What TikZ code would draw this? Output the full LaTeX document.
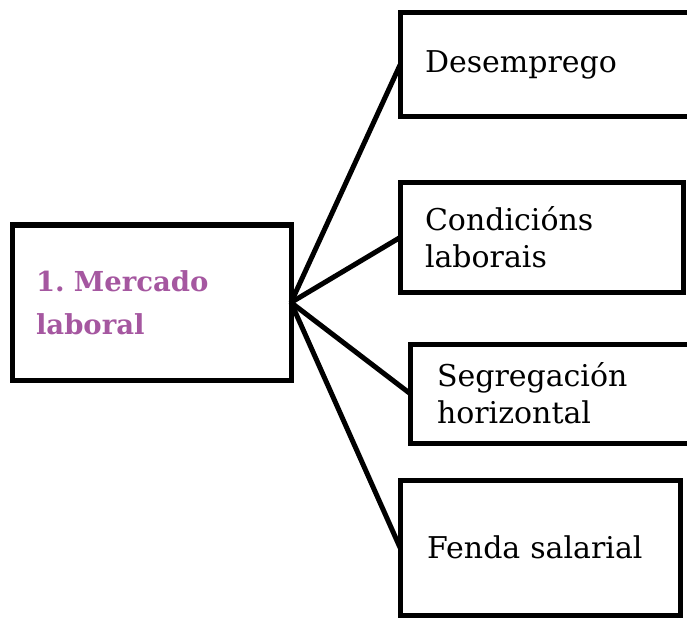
\documentclass[tikz,border=0pt]{standalone}
\usepackage{fontspec}
\setmainfont{DejaVu Serif}
\definecolor{ciruela}{RGB}{165,87,160}
\frenchspacing

\begin{document}
\begin{tikzpicture}[x=1pt,y=-1pt,
  caixa/.style={draw,line width=5pt,outer sep=0pt,inner xsep=25pt,inner ysep=0pt,
    align=left,anchor=north west,font=\fontsize{30}{37}\selectfont},
  rama/.style={line width=5pt}]

\useasboundingbox (0,0) rectangle (687,620);

% tema central
\node[caixa,inner xsep=24pt,text width=231pt,minimum height=155pt,
  font=\bfseries\fontsize{27.5}{43}\selectfont,text=ciruela] (mercado) at (12,225)
{1. Mercado\\laboral};

% subtemas
\node[caixa,text width=239pt,minimum height=104pt] (desemprego) at (400,13)
{Desemprego};
\node[caixa,text width=233pt,minimum height=109pt] (condicions) at (400,183)
{Condicións\\laborais};
\node[caixa,inner xsep=27pt,text width=240pt,minimum height=99pt] (segregacion) at (410,344)
{Segregación\\horizontal};
\node[caixa,inner xsep=27pt,text width=226pt,minimum height=135pt] (fenda) at (400,480)
{Fenda salarial};

\foreach \n in {desemprego,condicions,segregacion,fenda}
{
 \draw[rama] (mercado.east) -- (\n.west);
}
\end{tikzpicture}
\end{document}
